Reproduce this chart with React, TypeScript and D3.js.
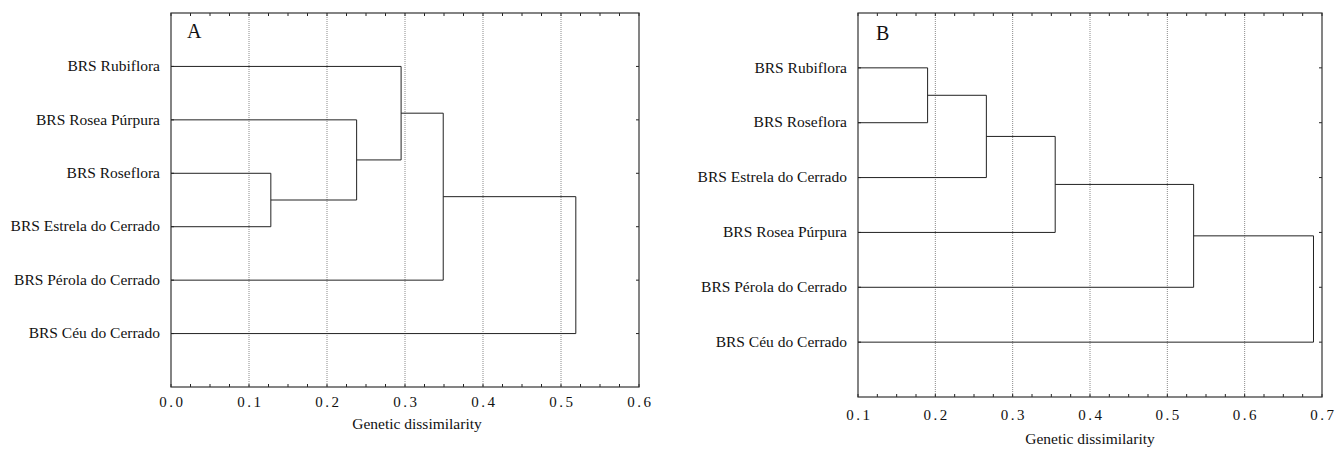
import React from "react";
import * as d3 from "d3";

// Panel A
const leavesA = [
  "BRS Rubiflora",
  "BRS Rosea Púrpura",
  "BRS Roseflora",
  "BRS Estrela do Cerrado",
  "BRS Pérola do Cerrado",
  "BRS Céu do Cerrado",
];
// [left, right, height] — ids >= n refer to earlier merges
const linkA: [number, number, number][] = [
  [2, 3, 0.128],
  [1, 6, 0.238],
  [0, 7, 0.295],
  [8, 4, 0.349],
  [9, 5, 0.519],
];
const ticksA = [0.0, 0.1, 0.2, 0.3, 0.4, 0.5, 0.6];

// Panel B
const leavesB = [
  "BRS Rubiflora",
  "BRS Roseflora",
  "BRS Estrela do Cerrado",
  "BRS Rosea Púrpura",
  "BRS Pérola do Cerrado",
  "BRS Céu do Cerrado",
];
const linkB: [number, number, number][] = [
  [0, 1, 0.19],
  [6, 2, 0.266],
  [7, 3, 0.355],
  [8, 4, 0.534],
  [9, 5, 0.689],
];
const ticksB = [0.1, 0.2, 0.3, 0.4, 0.5, 0.6, 0.7];

const FONT = '"Liberation Serif", "Times New Roman", Tinos, "DejaVu Serif", serif';
const INK = "#222";
const txt = { fontFamily: FONT };

interface PanelProps {
  letter: string;
  leaves: string[];
  links: [number, number, number][];
  ticks: number[];
  left: number;
  right: number;
  top: number;
  bottom: number;
  tickY: number;
  titleX: number;
  titleY: number;
  letterX: number;
  letterY: number;
}

function Dendrogram(p: PanelProps) {
  const dom = d3.extent(p.ticks) as [number, number];
  const x = d3.scaleLinear().domain(dom).range([p.left, p.right]);
  const y = d3
    .scaleLinear()
    .domain([0, p.leaves.length + 1])
    .range([p.top, p.bottom]);

  // node positions: leaves at height 0, merges at their height
  const nodes: { x: number; y: number }[] = p.leaves.map((_, i) => ({
    x: x(dom[0]),
    y: y(i + 1),
  }));
  const paths: string[] = [];
  p.links.forEach(([a, b, h]) => {
    const na = nodes[a];
    const nb = nodes[b];
    const hx = x(h);
    const path = d3.path();
    path.moveTo(na.x, na.y);
    path.lineTo(hx, na.y);
    path.lineTo(hx, nb.y);
    path.lineTo(nb.x, nb.y);
    paths.push(path.toString());
    nodes.push({ x: hx, y: (na.y + nb.y) / 2 });
  });

  const minor = d3.range(dom[0], dom[1] + 1e-9, 0.025);

  return (
    <g>
      {/* grid */}
      {p.ticks.slice(1, -1).map((t, i) => (
        <line
          key={i}
          x1={x(t)}
          x2={x(t)}
          y1={p.top}
          y2={p.bottom}
          stroke="#8a8a8a"
          strokeWidth={1}
          strokeDasharray="1,1"
        />
      ))}

      {/* minor ticks top & bottom */}
      {minor.map((t, i) => (
        <g key={i}>
          <line x1={x(t)} x2={x(t)} y1={p.top} y2={p.top + 3} stroke={INK} strokeWidth={1} />
          <line x1={x(t)} x2={x(t)} y1={p.bottom} y2={p.bottom - 3} stroke={INK} strokeWidth={1} />
        </g>
      ))}

      {/* row ticks left & right */}
      {p.leaves.map((_, i) => (
        <g key={i}>
          <line x1={p.left} x2={p.left + 3} y1={y(i + 1)} y2={y(i + 1)} stroke={INK} />
          <line x1={p.right - 3} x2={p.right} y1={y(i + 1)} y2={y(i + 1)} stroke={INK} />
        </g>
      ))}

      {/* frame */}
      <rect
        x={p.left}
        y={p.top}
        width={p.right - p.left}
        height={p.bottom - p.top}
        fill="none"
        stroke="#333"
        strokeWidth={1.2}
      />

      {/* dendrogram */}
      {paths.map((d, i) => (
        <path key={i} d={d} fill="none" stroke={INK} strokeWidth={1} />
      ))}

      {/* leaf labels */}
      {p.leaves.map((name, i) => (
        <text
          key={i}
          x={p.left - 11}
          y={y(i + 1)}
          dy="0.3em"
          textAnchor="end"
          style={txt}
          fontSize={15.5}
          fill="#111"
        >
          {name}
        </text>
      ))}

      {/* tick labels */}
      {p.ticks.map((t, i) => (
        <text
          key={i}
          x={x(t) + 1.25}
          y={p.tickY}
          textAnchor="middle"
          style={txt}
          fontSize={15}
          letterSpacing={2.5}
          fill="#111"
        >
          {d3.format(".1f")(t)}
        </text>
      ))}

      <text
        x={p.titleX}
        y={p.titleY}
        textAnchor="middle"
        style={txt}
        fontSize={15.5}
        fill="#111"
      >
        Genetic dissimilarity
      </text>

      <text x={p.letterX} y={p.letterY} style={txt} fontSize={20} fill="#111">
        {p.letter}
      </text>
    </g>
  );
}

export default function App() {
  return (
    <svg
      width={1342}
      height={453}
      style={{ position: "absolute", left: 0, top: 0, background: "#fff" }}
    >
      <rect width={1342} height={453} fill="#fff" />
      <Dendrogram
        letter="A"
        leaves={leavesA}
        links={linkA}
        ticks={ticksA}
        left={171}
        right={639}
        top={13}
        bottom={387}
        tickY={407}
        titleX={417}
        titleY={429}
        letterX={187}
        letterY={38}
      />
      <Dendrogram
        letter="B"
        leaves={leavesB}
        links={linkB}
        ticks={ticksB}
        left={858}
        right={1322}
        top={13}
        bottom={397}
        tickY={420}
        titleX={1090}
        titleY={444}
        letterX={876}
        letterY={40}
      />
    </svg>
  );
}
